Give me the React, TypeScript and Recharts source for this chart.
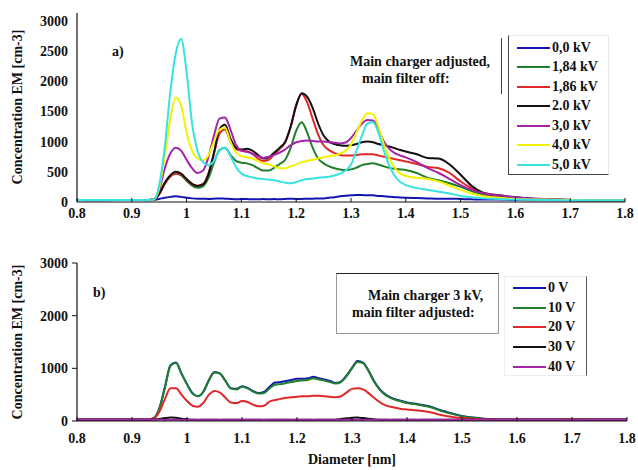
import React from 'react';
import { LineChart, Line, XAxis, YAxis, Legend } from 'recharts';

// diameter grid [nm], shared by both panels
const diameter = [
  0.8, 0.85, 0.9, 0.93, 0.94, 0.95, 0.96, 0.97, 0.98, 0.99,
  1.0, 1.01, 1.02, 1.03, 1.04, 1.05, 1.06, 1.07, 1.08, 1.09,
  1.1, 1.11, 1.12, 1.13, 1.14, 1.15, 1.16, 1.17, 1.18, 1.19,
  1.2, 1.21, 1.22, 1.23, 1.24, 1.25, 1.26, 1.27, 1.28, 1.29,
  1.3, 1.31, 1.32, 1.33, 1.34, 1.35, 1.36, 1.37, 1.38, 1.39,
  1.4, 1.42, 1.44, 1.46, 1.48, 1.5, 1.52, 1.54, 1.57, 1.6,
  1.65, 1.7, 1.75, 1.8,
];

// panel a) main charger voltage
const kv00 = [
  35, 30, 35, 30, 35, 50, 70, 85, 95, 85,
  70, 60, 55, 55, 50, 55, 60, 55, 50, 45,
  50, 50, 45, 45, 50, 45, 50, 45, 50, 55,
  50, 50, 55, 55, 60, 60, 70, 80, 95, 105,
  110, 115, 115, 110, 110, 100, 95, 85, 80, 75,
  70, 65, 60, 55, 55, 50, 45, 40, 40, 35,
  30, 30, 30, 30,
];
const kv184 = [
  35, 35, 35, 35, 40, 130, 300, 420, 470, 440,
  350, 270, 235, 260, 400, 650, 860, 900, 780, 680,
  650, 640, 610, 560, 520, 520, 570, 630, 700, 900,
  1180, 1320, 1150, 900, 720, 640, 590, 560, 540, 530,
  540, 570, 610, 630, 640, 620, 590, 565, 550, 540,
  530, 480, 400, 360, 310, 250, 180, 125, 85, 60,
  40, 35, 30, 30,
];
const kv186 = [
  35, 35, 35, 35, 40, 130, 300, 420, 470, 450,
  370, 290, 270, 300, 480, 800, 1130, 1200, 1000, 880,
  850, 840, 800, 720, 680, 700, 790, 880, 990, 1250,
  1600, 1790, 1650, 1380, 1120, 940, 860, 810, 780, 770,
  770, 780, 790, 790, 790, 770, 750, 730, 710, 690,
  670, 630, 580, 560, 480, 340, 230, 150, 100, 70,
  45, 35, 30, 30,
];
const kv20 = [
  35, 35, 35, 35, 40, 140, 320, 440, 500, 470,
  380, 300, 265, 290, 460, 820, 1210, 1280, 1050, 900,
  870, 880, 850, 780, 720, 740, 820, 900, 1000, 1250,
  1600, 1800, 1740, 1560, 1300, 1100, 1000, 960, 940, 930,
  940, 960, 990, 1000, 990, 960, 940, 920, 890, 860,
  835, 790, 730, 720, 620, 450, 270, 160, 110, 80,
  50, 35, 30, 30,
];
const kv30 = [
  35, 35, 35, 35, 40, 200, 550, 800, 900, 850,
  700, 560, 480, 520, 750, 1100, 1380, 1400, 1200, 950,
  850, 830, 800, 760, 730, 750, 780, 820, 870, 940,
  990, 1010, 1020, 1010, 1000, 1000, 990, 980, 970, 985,
  1060, 1180, 1300, 1360, 1350, 1200, 1000, 880, 810, 770,
  740, 660, 560, 480, 380, 280, 200, 150, 110, 80,
  50, 35, 30, 30,
];
const kv40 = [
  35, 35, 35, 35, 40, 230, 750, 1350, 1730, 1600,
  1150, 850, 720, 690, 780, 1000, 1200, 1230, 1000, 820,
  760, 740, 720, 680, 640, 620, 590, 560, 560, 590,
  620, 660, 680, 700, 720, 740, 760, 770, 800, 850,
  950, 1150, 1350, 1470, 1450, 1250, 950, 720, 560, 470,
  430, 400, 380, 340, 270, 200, 140, 100, 70, 50,
  40, 35, 30, 30,
];
const kv50 = [
  35, 35, 35, 35, 40, 280, 900, 1800, 2450, 2700,
  2150, 1300, 850, 660, 610, 680, 850, 900, 760, 580,
  470, 430, 410, 390, 380, 370, 360, 340, 320, 310,
  330, 360, 380, 390, 400, 410, 420, 440, 470, 520,
  620, 850, 1100, 1300, 1320, 1150, 850, 600, 430, 330,
  280, 230, 200, 170, 140, 100, 80, 60, 50, 40,
  35, 30, 30, 30,
];

// panel b) main filter voltage
const v0 = [
  30, 30, 30, 30, 60, 250, 650, 1060, 1110, 900,
  700, 530, 470, 560, 780, 930, 900, 760, 620, 610,
  660, 630, 570, 530, 550, 650, 730, 740, 760, 780,
  800, 800, 810, 840, 810, 790, 760, 720, 750, 860,
  1010, 1140, 1110, 960, 760, 610, 510, 450, 410, 380,
  350, 320, 280, 210, 150, 95, 65, 45, 30, 30,
  30, 30, 30, 30,
];
const v10 = [
  30, 30, 30, 30, 60, 240, 640, 1050, 1100, 900,
  700, 520, 470, 560, 780, 920, 900, 760, 620, 600,
  650, 620, 560, 520, 530, 620, 690, 700, 720, 740,
  760, 770, 780, 810, 790, 770, 740, 710, 740, 850,
  1000, 1120, 1100, 950, 750, 600, 500, 440, 400, 370,
  340, 310, 270, 200, 140, 90, 60, 40, 30, 30,
  30, 30, 30, 30,
];
const v20 = [
  30, 30, 30, 30, 50, 180, 420, 620, 620, 500,
  380, 290, 270, 350, 500, 570, 540, 440, 350, 340,
  380, 360, 310, 280, 290, 370, 400, 420, 440, 450,
  460, 470, 470, 480, 480, 470, 460, 450, 470, 540,
  610, 620, 600, 530, 440, 360, 300, 270, 250, 230,
  220, 200, 170, 120, 80, 55, 40, 30, 30, 30,
  30, 30, 30, 30,
];
const v30 = [
  25, 25, 25, 25, 30, 40, 55, 65, 60, 45,
  35, 25, 25, 25, 25, 25, 25, 25, 25, 25,
  25, 25, 25, 25, 25, 25, 25, 25, 25, 25,
  25, 25, 25, 25, 25, 25, 25, 25, 40, 50,
  60, 65, 55, 45, 35, 25, 25, 25, 25, 25,
  25, 25, 25, 25, 25, 25, 25, 25, 25, 25,
  25, 25, 25, 25,
];
const v40 = [
  25, 25, 25, 25, 25, 25, 20, 25, 25, 20,
  25, 25, 20, 25, 25, 25, 20, 25, 25, 25,
  20, 25, 25, 25, 20, 25, 25, 25, 25, 20,
  25, 25, 25, 20, 25, 25, 25, 25, 20, 25,
  25, 25, 20, 25, 25, 25, 25, 20, 25, 25,
  25, 20, 25, 25, 25, 25, 20, 25, 25, 25,
  25, 20, 25, 25,
];

const xTicks = [0.8, 0.9, 1, 1.1, 1.2, 1.3, 1.4, 1.5, 1.6, 1.7, 1.8];
const yTicksTop = [0, 500, 1000, 1500, 2000, 2500, 3000];
const yTicksBottom = [0, 1000, 2000, 3000];

const topData = diameter.map((d, i) => ({
  d, kv00: kv00[i], kv184: kv184[i], kv186: kv186[i], kv20: kv20[i],
  kv30: kv30[i], kv40: kv40[i], kv50: kv50[i],
}));
const bottomData = diameter.map((d, i) => ({
  d, v0: v0[i], v10: v10[i], v20: v20[i], v30: v30[i], v40: v40[i],
}));

const serif = 'Liberation Serif, DejaVu Serif, serif';
const tickStyle = { fontFamily: serif, fontSize: 14, fontWeight: 700, fill: '#111', style: { fontFamily: serif } };
const textStyle: React.CSSProperties = {
  position: 'absolute', fontFamily: serif, fontSize: 14, fontWeight: 700,
  color: '#111', whiteSpace: 'nowrap', lineHeight: '16px',
};

const C = {
  blue: '#1414b4', green: '#1f7f2a', red: '#e02828', black: '#111111',
  magenta: '#a424a8', yellow: '#f2f200', cyan: '#38e2e2',
};

const makeLegend = (box: React.CSSProperties, rowH: number) => (props: any) => (
  <div style={box}>
    {(props.payload || []).map((p: any) => (
      <div key={p.value} style={{ display: 'flex', alignItems: 'center', height: rowH }}>
        <span style={{ display: 'inline-block', width: 33, borderTop: `2.5px solid ${p.color}`, marginRight: 2 }} />
        <span style={{ fontFamily: serif, fontSize: 14, fontWeight: 700, color: '#111', lineHeight: '14px' }}>
          {p.value}
        </span>
      </div>
    ))}
  </div>
);

const topLegend = makeLegend({
  width: 101, height: 140, boxSizing: 'border-box', paddingLeft: 8, paddingTop: 2,
  borderLeft: '1.5px solid #444', borderBottom: '1.5px solid #444',
  borderTop: '1px solid #e6e6e6', borderRight: '1px solid #e6e6e6', background: '#fff',
}, 19.5);

const bottomLegend = makeLegend({
  width: 83, height: 100, boxSizing: 'border-box', paddingLeft: 8, paddingTop: 1,
  borderRight: '1.5px solid #555', borderTop: '1px solid #e6e6e6',
  borderLeft: '1px solid #eee', borderBottom: '1px solid #eee', background: '#fff',
}, 19.75);

const Line2 = (key: string, name: string, color: string) => (
  <Line
    key={key}
    type="monotone"
    dataKey={key}
    name={name}
    stroke={color}
    strokeWidth={2}
    dot={false}
    activeDot={false}
    isAnimationActive={false}
  />
);

export default function App() {
  return (
    <div style={{ position: 'absolute', left: 0, top: 0, width: 638, height: 470, background: '#fff', overflow: 'hidden', fontFamily: serif }}>
      {/* panel a) */}
      <div style={{ position: 'absolute', left: 0, top: 0 }}>
        <LineChart width={638} height={226} data={topData} margin={{ top: 13, right: 13, bottom: 0, left: 17 }}>
          <XAxis
            dataKey="d" type="number" domain={[0.8, 1.8]} ticks={xTicks} interval={0}
            tickFormatter={(v) => String(v)} height={24} tickSize={-4} tickMargin={10}
            axisLine={{ stroke: '#111', strokeWidth: 1.2 }} tickLine={{ stroke: '#111' }} tick={tickStyle}
          />
          <XAxis
            xAxisId="top" dataKey="d" type="number" orientation="top" domain={[0.8, 1.8]} ticks={xTicks}
            height={0} mirror axisLine={false} tick={false} tickSize={5} tickLine={{ stroke: '#333' }}
          />
          <YAxis
            type="number" domain={[0, 3130]} ticks={yTicksTop} interval={0} width={60}
            axisLine={{ stroke: '#111', strokeWidth: 1.2 }} tickLine={false} tickSize={5} tickMargin={4} tick={tickStyle}
          />
          <YAxis
            yAxisId="right" orientation="right" type="number" domain={[0, 3130]} ticks={yTicksTop}
            width={0} mirror tick={false} tickSize={5}
            axisLine={{ stroke: '#111', strokeWidth: 1.2 }} tickLine={{ stroke: '#333' }}
          />
          <Legend
            layout="vertical" align="center" verticalAlign="middle"
            content={topLegend}
            wrapperStyle={{ left: 508, top: 35, width: 101, height: 140 }}
          />
          {Line2('kv00', '0,0 kV', C.blue)}
          {Line2('kv184', '1,84 kV', C.green)}
          {Line2('kv186', '1,86 kV', C.red)}
          {Line2('kv20', '2.0 kV', C.black)}
          {Line2('kv30', '3,0 kV', C.magenta)}
          {Line2('kv40', '4,0 kV', C.yellow)}
          {Line2('kv50', '5,0 kV', C.cyan)}
        </LineChart>
      </div>

      {/* panel b) */}
      <div style={{ position: 'absolute', left: 0, top: 240 }}>
        <LineChart width={638} height={230} data={bottomData} margin={{ top: 23, right: 11, bottom: 19, left: 17 }}>
          <XAxis
            dataKey="d" type="number" domain={[0.8, 1.8]} ticks={xTicks} interval={0}
            tickFormatter={(v) => String(v)} height={30} tickSize={-4} tickMargin={16}
            axisLine={{ stroke: '#111', strokeWidth: 1.2 }} tickLine={{ stroke: '#111' }} tick={tickStyle}
          />
          <XAxis
            xAxisId="top" dataKey="d" type="number" orientation="top" domain={[0.8, 1.8]} ticks={xTicks}
            height={0} mirror tick={false} tickSize={5}
            axisLine={{ stroke: '#333', strokeWidth: 1 }} tickLine={{ stroke: '#333' }}
          />
          <YAxis
            type="number" domain={[0, 3000]} ticks={yTicksBottom} interval={0} width={60}
            axisLine={{ stroke: '#111', strokeWidth: 1.2 }} tickLine={{ stroke: '#111' }} tickSize={5} tickMargin={4} tick={tickStyle}
          />
          <Legend
            layout="vertical" align="center" verticalAlign="middle"
            content={bottomLegend}
            wrapperStyle={{ left: 504, top: 36, width: 83, height: 100 }}
          />
          {Line2('v0', '0 V', C.blue)}
          {Line2('v10', '10 V', C.green)}
          {Line2('v20', '20 V', C.red)}
          {Line2('v30', '30 V', C.black)}
          {Line2('v40', '40 V', C.magenta)}
        </LineChart>
      </div>

      {/* annotations */}
      <div style={{ ...textStyle, left: 112, top: 44 }}>a)</div>
      <div style={{ ...textStyle, left: 350, top: 54 }}>Main charger adjusted,</div>
      <div style={{ ...textStyle, left: 362, top: 71 }}>main filter off:</div>
      <div style={{ position: 'absolute', left: 501, top: 38, width: 0, height: 56, borderLeft: '1.5px solid #444' }} />

      <div style={{ ...textStyle, left: 93, top: 285 }}>b)</div>
      <div style={{
        position: 'absolute', left: 336, top: 273, width: 163, height: 61, boxSizing: 'border-box',
        borderTop: '1.5px solid #222', borderLeft: '1px solid #999', borderRight: '1px solid #999', borderBottom: '1px solid #999',
      }} />
      <div style={{ ...textStyle, left: 368, top: 288 }}>Main charger 3 kV,</div>
      <div style={{ ...textStyle, left: 352, top: 305 }}>main filter adjusted:</div>

      <div style={{ ...textStyle, left: 352, top: 452, transform: 'translateX(-50%)' }}>Diameter [nm]</div>
      <div style={{ ...textStyle, left: 18, top: 107, transform: 'translate(-50%, -50%) rotate(-90deg)' }}>Concentration EM [cm-3]</div>
      <div style={{ ...textStyle, left: 18, top: 342, transform: 'translate(-50%, -50%) rotate(-90deg)' }}>Concentration EM [cm-3]</div>
    </div>
  );
}
